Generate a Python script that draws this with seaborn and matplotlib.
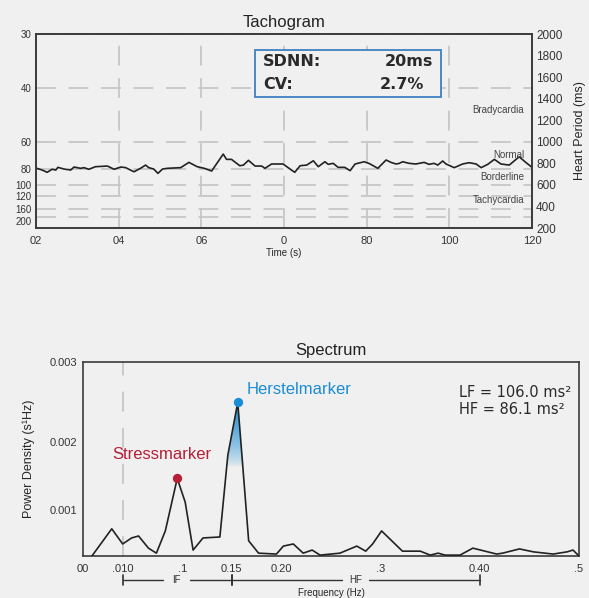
import numpy as np
import matplotlib
matplotlib.use('Agg')
import matplotlib.pyplot as plt
import matplotlib.transforms as mtransforms
from matplotlib import font_manager
from matplotlib.patches import Rectangle
import seaborn as sns

# Tachogram data
time_s = [0.2, 1.5, 2.7, 3.9, 4.8, 5.3, 6.8, 8.4, 9.2, 10.8,
          11.6, 12.8, 14.4, 17.3, 18.9, 20.5, 21.7, 23.7, 25.3, 26.5,
          27.3, 28.5, 29.5, 30.6, 31.8, 35.0, 37.0, 39.0, 40.7, 42.5,
          45.3, 46.1, 47.3, 49.3, 50.2, 51.4, 53.0, 54.6, 55.4, 57.0,
          59.8, 61.0, 62.6, 63.9, 65.5, 67.1, 68.3, 69.9, 70.7, 71.9,
          73.1, 74.7, 76.0, 77.2, 79.4, 80.7, 82.7, 84.7, 85.9, 87.1,
          87.9, 88.7, 90.3, 91.9, 93.9, 95.1, 96.3, 97.2, 98.4, 99.2,
          101.2, 103.2, 104.8, 106.5, 107.7, 109.3, 110.9, 112.5, 114.5, 116.9,
          118.5, 120.0]
period_ms = [754, 738, 717, 745, 738, 763, 747, 738, 766, 754,
             760, 745, 769, 775, 745, 766, 760, 722, 754, 784,
             760, 747, 707, 747, 754, 760, 809, 769, 754, 729,
             886, 837, 837, 778, 784, 828, 775, 775, 754, 794,
             794, 760, 717, 778, 784, 824, 769, 815, 791, 800,
             763, 763, 732, 794, 815, 797, 754, 831, 809, 794,
             800, 815, 800, 794, 809, 791, 800, 784, 822, 794,
             760, 794, 806, 794, 760, 791, 837, 794, 784, 861,
             809, 763]
time_ticks = [0, 20, 40, 60, 80, 100, 120]
time_labels = ['02', '04', '06', '0', '80', '100', '120']
bpm_ticks = [30, 40, 60, 80, 100, 120, 160, 200]
period_ticks = [200, 400, 600, 800, 1000, 1200, 1400, 1600, 1800, 2000]
zone_names = ['Bradycardia', 'Normal', 'Borderline', 'Tachycardia']
sdnn_text = '20ms'
cv_text = '2.7%'

# Spectrum data
freq_hz = [0.009, 0.029, 0.040, 0.049, 0.056, 0.066, 0.074, 0.083, 0.095, 0.103,
           0.111, 0.121, 0.138, 0.146, 0.156, 0.167, 0.177, 0.195, 0.202, 0.212,
           0.222, 0.231, 0.239, 0.259, 0.276, 0.285, 0.292, 0.301, 0.322, 0.340,
           0.350, 0.358, 0.365, 0.380, 0.393, 0.417, 0.423, 0.440, 0.454, 0.474,
           0.488, 0.494, 0.500]
power = [0, 0.00067, 0.00036, 0.00049, 0.00053, 0.00026, 0.00012, 0.00063, 0.00149, 0.00113,
         0.00021, 0.00049, 0.00051, 0.00182, 0.00251, 0.00043, 0.00012, 0.00009, 0.00031, 0.00036,
         0.00012, 0.00021, 0.00005, 0.00012, 0.00031, 0.00018, 0.00036, 0.00063, 0.00018, 0.00018,
         0.00005, 0.00012, 0.00005, 0.00005, 0.00026, 0.00009, 0.00012, 0.00024, 0.00016, 0.00009,
         0.00016, 0.00021, 0]
freq_ticks = [0, 0.04, 0.1, 0.15, 0.20, 0.3, 0.40, 0.5]
freq_labels = ['00', '.010', '.1', '0.15', '0.20', '.3', '0.40', '.5']
power_ticks = [0.001, 0.002, 0.003]
power_labels = ['0.001', '0.002', '0.003']
lf_band = [0.04, 0.15]
hf_band = [0.15, 0.40]
band_label_x = [0.094, 0.275]
lf_value = 106.0
hf_value = 86.1

BG = '#f0f0f0'
GRID = '#c6c6c6'
INK = '#222222'
RED = '#b81e35'
BLUE = '#1a8dd6'
BOX = '#3f80c2'

sns.set_theme(style='white')
names = {f.name for f in font_manager.fontManager.ttflist}
NARROW = 'Liberation Sans Narrow' if 'Liberation Sans Narrow' in names else 'Liberation Sans'
plt.rcParams['font.family'] = [NARROW, 'DejaVu Sans']
plt.rcParams['axes.facecolor'] = BG
plt.rcParams['text.color'] = INK


def style_spines(ax):
    for s in ax.spines.values():
        s.set_color('#3a3a3a')
        s.set_linewidth(1.2)


fig = plt.figure(figsize=(5.89, 5.98), dpi=100)
fig.patch.set_facecolor(BG)

# ---------------- Tachogram ----------------
ax1 = fig.add_axes([0.0611, 0.6187, 0.8421, 0.3244])
sns.lineplot(x=time_s, y=period_ms, ax=ax1, color=INK, lw=1.2, zorder=3)
ax1.set_xlim(0, 120)
ax1.set_ylim(200, 2000)
ax1.set_xticks(time_ticks, time_labels)
ax1.set_yticks([60000 / b for b in bpm_ticks], [str(b) for b in bpm_ticks])
ax1.grid(True, color=GRID, linestyle=(0, (11, 7)), lw=1.3)
ax1.set_axisbelow(True)
ax1.tick_params(axis='both', length=0, labelsize=8, colors='#333333')
ax1.tick_params(axis='x', pad=6)
ax1.tick_params(axis='y', pad=3, labelsize=7)
# the lowest heart-rate labels sit close together; drop the last one a little
ax1.get_yticklabels()[-1].set_verticalalignment('top')
ax1.set_xlabel('Time (s)', fontsize=7, labelpad=1)
ax1.set_title('Tachogram', fontsize=12, pad=5)
style_spines(ax1)

ax1r = ax1.twinx()
ax1r.set_ylim(200, 2000)
ax1r.set_yticks(period_ticks)
ax1r.tick_params(axis='y', length=0, labelsize=8.5, colors='#333333', pad=3)
ax1r.set_ylabel('Heart Period (ms)', fontsize=9, labelpad=8)
style_spines(ax1r)

zone_y = [0.608, 0.376, 0.263, 0.144]
for name, zy in zip(zone_names, zone_y):
    ax1.text(0.984, zy, name, transform=ax1.transAxes, ha='right', va='center',
             fontsize=7, color='#444444', zorder=4)

ax1.add_patch(Rectangle((0.4415, 0.675), 0.375, 0.2425, transform=ax1.transAxes,
                        facecolor=BG, edgecolor=BOX, lw=1.3, zorder=5))
stat_font = dict(family='DejaVu Sans', fontsize=11.5, fontweight='bold', color='#2a2a2a',
                 va='center', transform=ax1.transAxes, zorder=6)
ax1.text(0.458, 0.856, 'SDNN:', ha='left', **stat_font)
ax1.text(0.800, 0.856, sdnn_text, ha='right', **stat_font)
ax1.text(0.458, 0.742, 'CV:', ha='left', **stat_font)
ax1.text(0.782, 0.742, cv_text, ha='right', **stat_font)

# ---------------- Spectrum ----------------
ax2 = fig.add_axes([0.1409, 0.0702, 0.8421, 0.3244])
sns.lineplot(x=freq_hz, y=power, ax=ax2, color=INK, lw=1.2, zorder=3)


def fwd(v):
    v = np.asarray(v, dtype=float)
    return np.sign(v) * np.abs(v) ** 1.31


def inv(v):
    v = np.asarray(v, dtype=float)
    return np.sign(v) * np.abs(v) ** (1 / 1.31)


ax2.set_yscale('function', functions=(fwd, inv))
ax2.set_xlim(0, 0.5)
ax2.set_ylim(0, 0.003)
ax2.set_xticks(freq_ticks, freq_labels)
ax2.set_yticks(power_ticks, power_labels)
ax2.tick_params(axis='both', length=0, labelsize=8, colors='#333333')
ax2.tick_params(axis='x', pad=6)
ax2.tick_params(axis='y', pad=4)
ax2.set_ylabel('Power Density (s¹Hz)', fontsize=9, labelpad=11)
ax2.set_xlabel('Frequency (Hz)', fontsize=7)
ax2.xaxis.set_label_coords(0.5, -0.165)
ax2.set_title('Spectrum', fontsize=12, pad=5)
ax2.axvline(0.04, color=GRID, linestyle=(0, (11, 9)), lw=1.3, zorder=1)
style_spines(ax2)

# peaks
pw = np.array(power)
fr = np.array(freq_hz)
i_hf = int(np.argmax(pw))
lf_mask = (fr >= lf_band[0]) & (fr < 0.13)
i_lf = int(np.flatnonzero(lf_mask)[np.argmax(pw[lf_mask])])

# gradient under the recovery peak
seg = slice(i_hf - 2, i_hf + 2)
poly = ax2.fill_between(fr[seg], pw[seg], 0, color='none', lw=0)
clip = poly.get_paths()[0]
top = fwd(pw[i_hf]) / fwd(0.003)
bot = fwd(0.00165) / fwd(0.003)
rgba = np.zeros((256, 1, 4))
rgba[..., :3] = matplotlib.colors.to_rgb(BLUE)
rgba[:, 0, 3] = np.linspace(0, 1, 256) ** 0.7
im = ax2.imshow(rgba, origin='lower', aspect='auto', transform=ax2.transAxes,
                extent=[fr[i_hf - 2] / 0.5, fr[i_hf + 1] / 0.5, bot, top], zorder=2)
im.set_clip_path(clip, ax2.transData)
ax2.set_xlim(0, 0.5)
ax2.set_ylim(0, 0.003)

ax2.scatter([fr[i_lf]], [pw[i_lf]], s=45, color=RED, zorder=5, linewidths=0)
ax2.scatter([fr[i_hf]], [pw[i_hf]], s=45, color=BLUE, zorder=5, linewidths=0)
ax2.annotate('Stressmarker', xy=(fr[i_lf], pw[i_lf]), xytext=(-11, 17),
             textcoords='offset points', ha='center', va='center', fontsize=12, color=RED)
ax2.annotate('Herstelmarker', xy=(fr[i_hf], pw[i_hf]), xytext=(6.5, 9.5),
             textcoords='offset points', ha='left', va='center', fontsize=12, color=BLUE)

ax2.text(0.758, 0.845, f'LF = {lf_value:.1f} ms²', transform=ax2.transAxes,
         family='DejaVu Sans', fontsize=10.5, va='center', color='#2a2a2a')
ax2.text(0.758, 0.753, f'HF = {hf_value:.1f} ms²', transform=ax2.transAxes,
         family='DejaVu Sans', fontsize=10.5, va='center', color='#2a2a2a')

# LF / HF band brackets below the axis, with a gap for the band name
blend = mtransforms.blended_transform_factory(ax2.transData, ax2.transAxes)
yb = -0.124
gap = 0.0135
for band, name, cx in [(lf_band, 'IF', band_label_x[0]), (hf_band, 'HF', band_label_x[1])]:
    ax2.plot([band[0], cx - gap], [yb, yb], color='#333333', lw=1, transform=blend, clip_on=False)
    ax2.plot([cx + gap, band[1]], [yb, yb], color='#333333', lw=1, transform=blend, clip_on=False)
    for x in band:
        ax2.plot([x, x], [yb - 0.025, yb + 0.025], color='#333333', lw=1.2,
                 transform=blend, clip_on=False)
    ax2.text(cx, yb, name, transform=blend, ha='center', va='center',
             fontsize=7, color='#333333')

fig.savefig('out.png', dpi=100, facecolor=BG)
